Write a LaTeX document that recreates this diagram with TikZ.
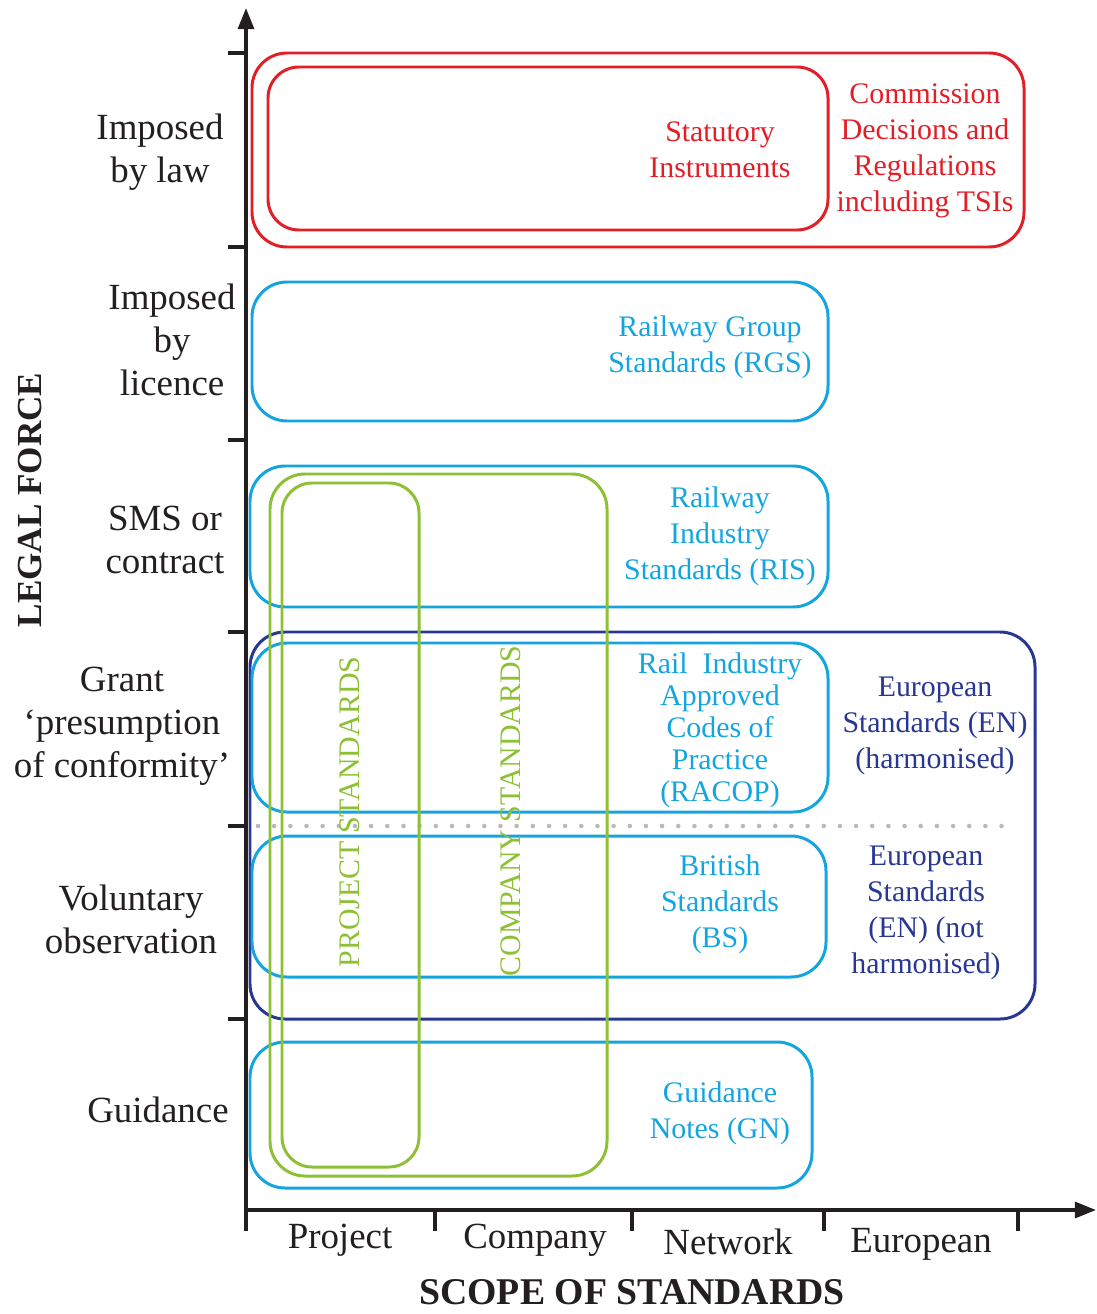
\documentclass[tikz,border=0pt]{standalone}
\usepackage{fontspec}
\setmainfont{Liberation Serif}
\usetikzlibrary{arrows.meta}
\definecolor{cred}{RGB}{226,30,38}
\definecolor{ccyan}{RGB}{20,165,225}
\definecolor{cnavy}{RGB}{40,55,145}
\definecolor{cgreen}{RGB}{141,192,52}
\definecolor{cgray}{RGB}{185,185,185}
\definecolor{ctext}{RGB}{35,31,32}
\begin{document}
\begin{tikzpicture}[x=0.02cm,y=-0.02cm,
  boxline/.style={line width=1.7pt,rounded corners=0.7cm},
  inlabel/.style={align=center,font=\fontsize{17}{20.4}\selectfont,inner sep=0pt},
  sidelabel/.style={align=center,font=\fontsize{21}{24.4}\selectfont,inner sep=0pt,text=ctext},
  axislabel/.style={font=\fontsize{21}{24}\selectfont,inner sep=0pt,text=ctext},
  titlelabel/.style={font=\fontsize{20}{24}\selectfont\bfseries,inner sep=0pt,text=ctext},
  vlabel/.style={rotate=90,font=\fontsize{17}{20}\selectfont,inner sep=0pt,text=cgreen},
  axisline/.style={line width=2.1pt,draw=ctext},
  tickline/.style={line width=2.1pt,draw=ctext}]
\useasboundingbox (0,0) rectangle (1096,1314);

% axes
\coordinate (o) at (246,1210);
\coordinate (ytop) at (246,8);
\coordinate (xend) at (1096,1210);
\draw[axisline,-{Triangle[length=12pt,width=9pt]}] (o) -- (ytop);
\draw[axisline,-{Triangle[length=12pt,width=9pt]}] (o) -- (xend);
\foreach \yy in {53,247,440,632,826,1019}
  \draw[tickline] (228,\yy) -- (246,\yy);
\foreach \xx in {246,435,632,824,1018}
  \draw[tickline] (\xx,1210) -- (\xx,1231);

% dotted separator
\draw[cgray,line width=2.6pt,line cap=round,dash pattern=on 0pt off 9.2pt] (258,826) -- (1012,826);

% boxes
\draw[boxline,cred] (252,53) rectangle (1024,247);
\draw[boxline,cred,rounded corners=0.62cm] (268,67) rectangle (828,230);
\draw[boxline,ccyan] (252,282) rectangle (828,421);
\draw[boxline,ccyan] (250,466) rectangle (828,607);
\draw[boxline,cnavy] (250,632) rectangle (1035,1019);
\draw[boxline,ccyan] (252,643) rectangle (828,812);
\draw[boxline,ccyan] (252,836) rectangle (826,977);
\draw[boxline,ccyan] (250,1042) rectangle (812,1188);
\draw[boxline,cgreen] (270,474) rectangle (607,1176);
\draw[boxline,cgreen,rounded corners=0.6cm] (282,483) rectangle (419,1167);

% box texts
\node[inlabel,text=cred] (si) at (720,150) {Statutory\\Instruments};
\node[inlabel,text=cred] (cd) at (925,151) {Commission\\Decisions and\\Regulations\\including TSIs};
\node[inlabel,text=ccyan] (rgs) at (710,347) {Railway Group\\Standards (RGS)};
\node[inlabel,text=ccyan] (ris) at (720,536) {Railway\\Industry\\Standards (RIS)};
\node[inlabel,text=ccyan,font=\fontsize{17}{18.2}\selectfont] (racop) at (720,730) {Rail\ \ Industry\\Approved\\Codes of\\Practice\\(RACOP)};
\node[inlabel,text=cnavy] (enh) at (935,726) {European\\Standards (EN)\\(harmonised)};
\node[inlabel,text=ccyan] (bs) at (720,904) {British\\Standards\\(BS)};
\node[inlabel,text=cnavy] (ennh) at (926,913) {European\\Standards\\(EN) (not\\harmonised)};
\node[inlabel,text=ccyan] (gn) at (720,1113) {Guidance\\Notes (GN)};
\node[vlabel] (ps) at (350,812) {PROJECT STANDARDS};
\node[vlabel] (cs) at (511,811) {COMPANY STANDARDS};

% side labels
\node[sidelabel] (law) at (160,152) {Imposed\\by law};
\node[sidelabel] (lic) at (172,340) {Imposed\\by\\licence};
\node[sidelabel] (sms) at (165,540) {SMS or\\contract};
\node[sidelabel] (grant) at (122,726) {Grant\\‘presumption\\of conformity’};
\node[sidelabel] (vol) at (131,919) {Voluntary\\observation};
\node[sidelabel] (gui) at (158,1110) {Guidance};
\node[titlelabel,rotate=90] (lf) at (30,500) {LEGAL FORCE};

% x labels
\node[axislabel] (proj) at (340,1240) {Project};
\node[axislabel] (comp) at (535,1240) {Company};
\node[axislabel] (net) at (728,1242) {Network};
\node[axislabel] (eur) at (921,1244) {European};
\node[titlelabel,font=\fontsize{21.5}{24}\selectfont\bfseries] (scope) at (632,1292) {SCOPE OF STANDARDS};
\end{tikzpicture}
\end{document}
